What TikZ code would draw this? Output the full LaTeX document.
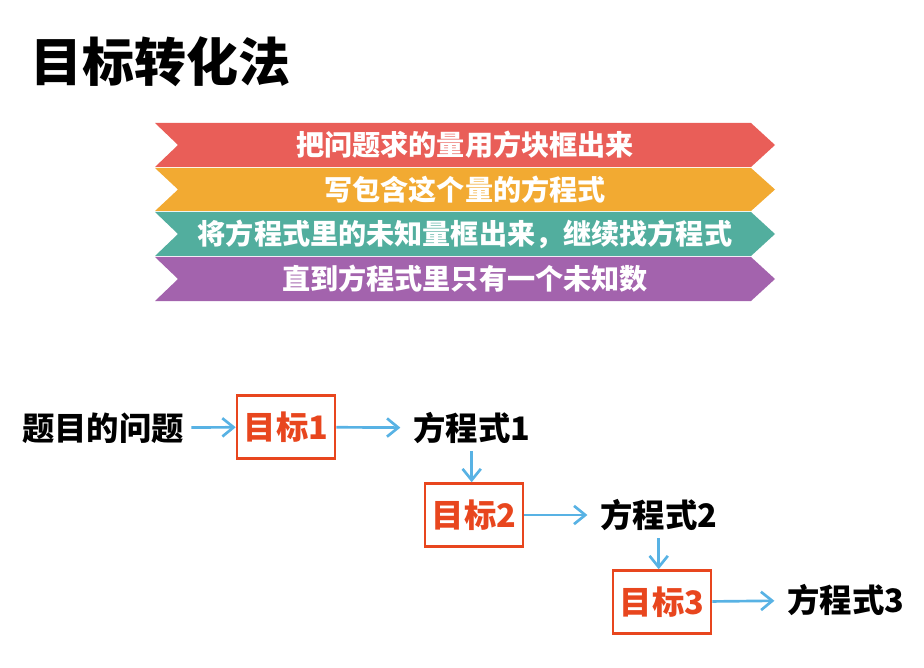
\documentclass[tikz,border=0pt]{standalone}
\usepackage{fontspec}
\setmainfont{Noto Sans CJK SC}
\usepackage{tikz}
\usetikzlibrary{arrows.meta,positioning}
\definecolor{ribred}{RGB}{233,94,88}
\definecolor{riborange}{RGB}{242,170,50}
\definecolor{ribteal}{RGB}{82,174,158}
\definecolor{ribpurple}{RGB}{163,99,173}
\definecolor{goalred}{RGB}{232,70,30}
\definecolor{flowblue}{RGB}{88,178,228}

\begin{document}
\begin{tikzpicture}[
      x=0.025cm, y=-0.025cm,
      heading/.style={font=\fontsize{37}{40}\selectfont\bfseries, inner sep=0pt},
      bantext/.style={font=\fontsize{20}{22}\selectfont\bfseries, text=white,
        inner sep=0pt},
      goal/.style={draw=goalred, line width=1.8pt, text=goalred,
        font=\fontsize{23}{26}\selectfont\bfseries,
        minimum width=2.45cm, minimum height=1.575cm, inner sep=0pt},
      eq/.style={font=\fontsize{23}{26}\selectfont\bfseries, inner sep=5pt},
      flow/.style={-{Straight Barb[length=8pt, width=13pt, line width=1.9pt]},
        line width=1.9pt, flowblue}
    ]
    \useasboundingbox (0,0) rectangle (924,668);
    \newcommand{\ribbon}[5]{%
      \fill[#3] (155,#1) -- (751,#1) -- (775,{(#1+#2)/2}) -- (751,#2)
        -- (155,#2) -- (178,{(#1+#2)/2}) -- cycle;
      \node[bantext] (#5) at (465,{(#1+#2)/2}) {#4};
    }

    \node[heading, anchor=west] (title) at (30,62) {目标转化法};

    \ribbon{123}{167}{ribred}{把问题求的量用方块框出来}{stepA}
    \ribbon{168}{211}{riborange}{写包含这个量的方程式}{stepB}
    \ribbon{212}{256}{ribteal}{将方程式里的未知量框出来，继续找方程式}{stepC}
    \ribbon{257}{301}{ribpurple}{直到方程式里只有一个未知数}{stepD}

    \node[eq, anchor=west] (ask) at (15,428) {题目的问题};
    \node[goal] (g1) at (286,427) {目标1};
    \node[eq, anchor=west] (e1) at (406,428) {方程式1};
    \node[goal] (g2) at (474,515) {目标2};
    \node[eq, anchor=west] (e2) at (593,515) {方程式2};
    \node[goal] (g3) at (662,602) {目标3};
    \node[eq, anchor=west] (e3) at (780,600) {方程式3};

    \draw[flow] (ask) -- (g1);
    \draw[flow, shorten >=4pt] (g1) -- (e1);
    \draw[flow] (e1.south) -- (e1.south |- g2.north);
    \draw[flow, shorten >=4pt] (g2) -- (e2);
    \draw[flow] (e2.south) -- (e2.south |- g3.north);
    \draw[flow, shorten >=4pt] (g3) -- (e3);
  \end{tikzpicture}
\end{document}
